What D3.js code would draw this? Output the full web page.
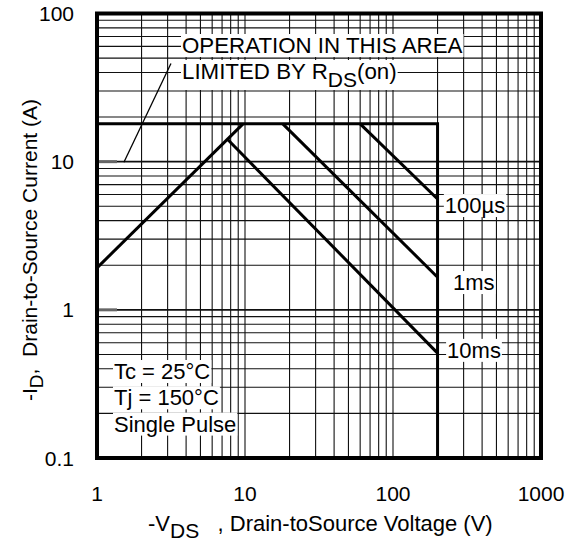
<!DOCTYPE html>
<html>
<head>
<meta charset="utf-8">
<script src="https://cdn.jsdelivr.net/npm/d3@7"></script>
<style>
  body { margin: 0; background: #fff; }
  svg { display: block; font-family: "Liberation Sans", Arial, sans-serif; }
</style>
</head>
<body>
<svg width="572" height="544"></svg>
<script>
// axis ticks
const xTicks = [1, 10, 100, 1000];
const yTicks = [0.1, 1, 10, 100];

// SOA boundary (package current limit + max VDS)
const boundary = [[1, 18], [200, 18], [200, 0.1]];

// RDS(on) limit line
const rdsLine = [[1, 1.92], [9.7, 18]];

// pulse lines
const pulseNames = ["100µs", "1ms", "10ms"];
const pulseLines = [
    [[60, 18], [200, 5.6]],
    [[18, 18], [200, 1.66]],
    [[7.7, 14], [200, 0.51]]
];
const pulseLabelAt = [[224, 4.5], [254, 1.36], [232, 0.474]];

// annotations
const conditions = ["Tc = 25°C", "Tj = 150°C", "Single Pulse"];
const leader = [[3.16, 46], [1.52, 9.9]];

const svg = d3.select("svg");
const x = d3.scaleLog().domain([1, 1000]).range([97, 541]);
const y = d3.scaleLog().domain([0.1, 100]).range([458, 13.5]);

const grid = svg.append("g");
const gridVals = [];
[1, 10, 100].forEach(d => {
    for (let k = 1; k < 10; k++) gridVals.push(d * k);
});
const gridY = [];
[0.1, 1, 10].forEach(d => {
    for (let k = 1; k < 10; k++) gridY.push(d * k);
});

grid.selectAll(".vg")
    .data(gridVals.filter(v => v > 1))
    .enter().append("line")
    .attr("x1", d => x(d)).attr("x2", d => x(d))
    .attr("y1", y(0.1)).attr("y2", y(100))
    .attr("stroke", "#111").attr("stroke-width", 1.1);

grid.selectAll(".hg")
    .data(gridY.filter(v => v > 0.1))
    .enter().append("line")
    .attr("y1", d => y(d)).attr("y2", d => y(d))
    .attr("x1", x(1)).attr("x2", x(1000))
    .attr("stroke", "#111").attr("stroke-width", d => (d === 1 || d === 10) ? 1.6 : 1.1);

// small major ticks on left
grid.selectAll(".mt")
    .data([1, 10])
    .enter().append("line")
    .attr("y1", d => y(d)).attr("y2", d => y(d))
    .attr("x1", x(1)).attr("x2", x(1) + 20)
    .attr("stroke", "#666").attr("stroke-width", 3);

const line = d3.line().x(d => x(d[0])).y(d => y(d[1]));

// text with white boxes behind
const ann = svg.append("g");
function boxed(g, build) {
    const t = build(g);
    const b = t.node().getBBox();
    g.insert("rect", "text")
        .attr("x", b.x - 1).attr("y", b.y + 1)
        .attr("width", b.width + 2).attr("height", b.height - 2)
        .attr("fill", "#fff");
    return t;
}

boxed(ann.append("g"), g => g.append("text")
    .attr("x", 182).attr("y", 53)
    .attr("font-size", 22.3)
    .text("OPERATION IN THIS AREA"));

boxed(ann.append("g"), g => {
    const t = g.append("text").attr("x", 182).attr("y", 79).attr("font-size", 22.3);
    t.append("tspan").text("LIMITED BY R");
    t.append("tspan").attr("dy", 8).attr("font-size", 21).text("DS");
    t.append("tspan").attr("dy", -8).text("(on)");
    return t;
});

conditions.forEach((c, i) => {
    boxed(ann.append("g"), g => g.append("text")
        .attr("x", 114).attr("y", 379 + i * 26.3)
        .attr("font-size", 22)
        .text(c));
});

pulseNames.forEach((n, i) => {
    boxed(ann.append("g"), g => g.append("text")
        .attr("x", x(pulseLabelAt[i][0])).attr("y", y(pulseLabelAt[i][1]))
        .attr("font-size", 22)
        .text(n));
});

// leader line
svg.append("path")
    .attr("d", line(leader))
    .attr("fill", "none").attr("stroke", "#000").attr("stroke-width", 1.3);

// SOA lines
const soa = svg.append("g")
    .attr("fill", "none").attr("stroke", "#000").attr("stroke-width", 3);
soa.append("path").attr("d", line(boundary));
soa.append("path").attr("d", line(rdsLine));
soa.selectAll(".pl")
    .data(pulseLines)
    .enter().append("path")
    .attr("d", d => line(d));

// frame
svg.append("rect")
    .attr("x", x(1)).attr("y", y(100))
    .attr("width", x(1000) - x(1)).attr("height", y(0.1) - y(100))
    .attr("fill", "none").attr("stroke", "#000").attr("stroke-width", 4);

// tick labels
const fmt = d => d < 1 ? d.toString() : d3.format("d")(d);
svg.append("g")
    .attr("font-size", 21).attr("text-anchor", "middle")
    .selectAll("text")
    .data(xTicks)
    .enter().append("text")
    .attr("x", d => x(d)).attr("y", 501)
    .text(fmt);

svg.append("g")
    .attr("font-size", 21).attr("text-anchor", "end")
    .selectAll("text")
    .data(yTicks)
    .enter().append("text")
    .attr("x", 74).attr("y", d => y(d) + 7.5)
    .text(fmt);

// axis titles
const xt = svg.append("text")
    .attr("x", 148).attr("y", 531).attr("font-size", 22)
    .attr("xml:space", "preserve");
xt.append("tspan").text("-V");
xt.append("tspan").attr("dy", 7).attr("font-size", 21).text("DS");
xt.append("tspan").attr("dy", -7).text("   , Drain-toSource Voltage (V)");

const yt = svg.append("text")
    .attr("transform", "translate(37,401) rotate(-90)")
    .attr("font-size", 21)
    .attr("xml:space", "preserve");
yt.append("tspan").text("-I");
yt.append("tspan").attr("dy", 6).attr("font-size", 19).text("D");
yt.append("tspan").attr("dy", -6).text(",  Drain-to-Source Current (A)");
</script>
</body>
</html>
